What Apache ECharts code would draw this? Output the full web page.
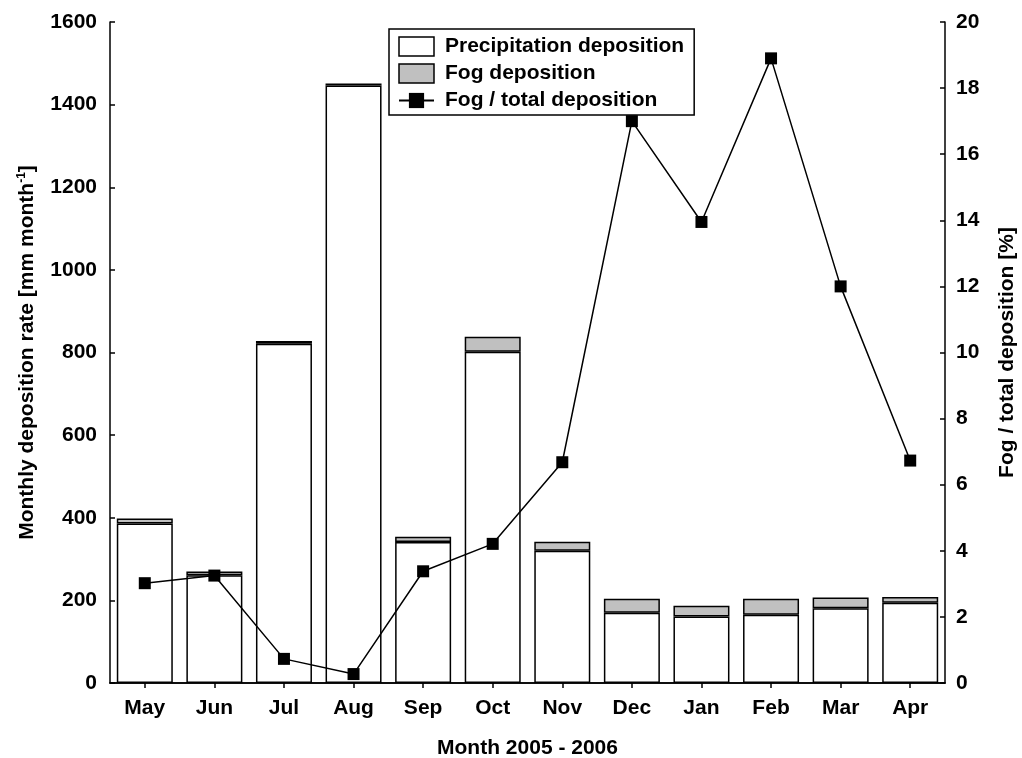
<!DOCTYPE html>
<html>
<head>
<meta charset="utf-8">
<title>Monthly deposition 2005 - 2006</title>
<script src="https://cdn.jsdelivr.net/npm/echarts@6/dist/echarts.min.js"></script>
<style>
  html, body { margin: 0; padding: 0; background: #fff; overflow: hidden; }
  #chart { width: 1022px; height: 758px; }
</style>
</head>
<body>
<div id="chart"></div>
<script>
// Months of the measuring year
const months = ['May', 'Jun', 'Jul', 'Aug', 'Sep', 'Oct', 'Nov', 'Dec', 'Jan', 'Feb', 'Mar', 'Apr'];
// Precipitation deposition [mm month^-1]
const precipitation = [386, 261, 821, 1446, 341, 802, 320, 170, 161, 165, 181, 194];
// Fog deposition [mm month^-1], stacked on top of precipitation
const fog = [12, 9, 7, 5, 13, 36, 22, 34, 26, 39, 26, 14];
// Fog share of total deposition [%]
const fogShare = [3.02, 3.25, 0.73, 0.27, 3.38, 4.21, 6.68, 17.0, 13.95, 18.9, 12.0, 6.73];

const FONT = '"Liberation Sans", Arial, Helvetica, sans-serif';
const FS = 21;
const txt = { color: '#000', fontFamily: FONT, fontWeight: 'bold', fontSize: FS };
const axisLine = { show: true, lineStyle: { color: '#000', width: 1.5 } };
const tick = { show: true, inside: true, length: 5, lineStyle: { color: '#000', width: 1.5 } };
const plain = v => String(v);

const chart = echarts.init(document.getElementById('chart'), null, { renderer: 'canvas' });

chart.setOption({
  animation: false,
  backgroundColor: '#fff',
  grid: { left: 110, right: 77, top: 22, bottom: 75, containLabel: false, outerBoundsMode: 'none' },
  legend: {
    orient: 'vertical',
    left: 389,
    top: 29,
    padding: [7, 10, 4, 9],
    itemWidth: 35,
    itemHeight: 19,
    itemGap: 6,
    borderColor: '#000',
    borderWidth: 1.5,
    backgroundColor: '#fff',
    textStyle: Object.assign({}, txt, { padding: [0, 0, 0, 6] }),
    data: [
      { name: 'Precipitation deposition', icon: 'rect',
        itemStyle: { color: '#fff', borderColor: '#000', borderWidth: 1.5 } },
      { name: 'Fog deposition', icon: 'rect',
        itemStyle: { color: '#c0c0c0', borderColor: '#000', borderWidth: 1.5 } },
      { name: 'Fog / total deposition' }
    ]
  },
  xAxis: [
    {
      type: 'category',
      data: months,
      position: 'bottom',
      axisLine: axisLine,
      axisTick: Object.assign({ alignWithLabel: true }, tick),
      axisLabel: Object.assign({}, txt, { margin: 15 }),
      name: 'Month 2005 - 2006',
      nameLocation: 'middle',
      nameGap: 55,
      nameTextStyle: txt,
      splitLine: { show: false }
    },
    {
      type: 'category',
      data: months,
      position: 'top',
      axisLine: axisLine,
      axisTick: Object.assign({ alignWithLabel: true }, tick),
      axisLabel: { show: false },
      splitLine: { show: false }
    }
  ],
  yAxis: [
    {
      type: 'value',
      min: 0,
      max: 1600,
      interval: 200,
      position: 'left',
      axisLine: axisLine,
      axisTick: tick,
      axisLabel: Object.assign({}, txt, { margin: 13, formatter: plain }),
      splitLine: { show: false },
      name: 'Monthly deposition rate [mm month{sup|-1}]',
      nameLocation: 'middle',
      nameRotate: 90,
      nameGap: 62,
      nameTextStyle: Object.assign({}, txt, {
        lineHeight: 24,
        rich: {
          sup: { fontFamily: FONT, fontWeight: 'bold', fontSize: 12, color: '#000',
                 verticalAlign: 'top', lineHeight: 12 }
        }
      })
    },
    {
      type: 'value',
      min: 0,
      max: 20,
      interval: 2,
      position: 'right',
      axisLine: axisLine,
      axisTick: tick,
      axisLabel: Object.assign({}, txt, { margin: 11, formatter: plain }),
      splitLine: { show: false },
      name: 'Fog / total deposition [%]',
      nameLocation: 'middle',
      nameRotate: 90,
      nameGap: 52,
      nameTextStyle: txt
    }
  ],
  series: [
    {
      name: 'Precipitation deposition',
      type: 'bar',
      stack: 'deposition',
      barWidth: 56,
      data: precipitation,
      itemStyle: { color: '#fff', borderColor: '#000', borderWidth: 1.5 }
    },
    {
      name: 'Fog deposition',
      type: 'bar',
      stack: 'deposition',
      barWidth: 56,
      data: fog,
      itemStyle: { color: '#c0c0c0', borderColor: '#000', borderWidth: 1.5 }
    },
    {
      name: 'Fog / total deposition',
      type: 'line',
      yAxisIndex: 1,
      data: fogShare,
      symbol: 'rect',
      symbolSize: 12,
      itemStyle: { color: '#000' },
      lineStyle: { color: '#000', width: 1.5 },
      z: 5
    }
  ]
});
</script>
</body>
</html>
